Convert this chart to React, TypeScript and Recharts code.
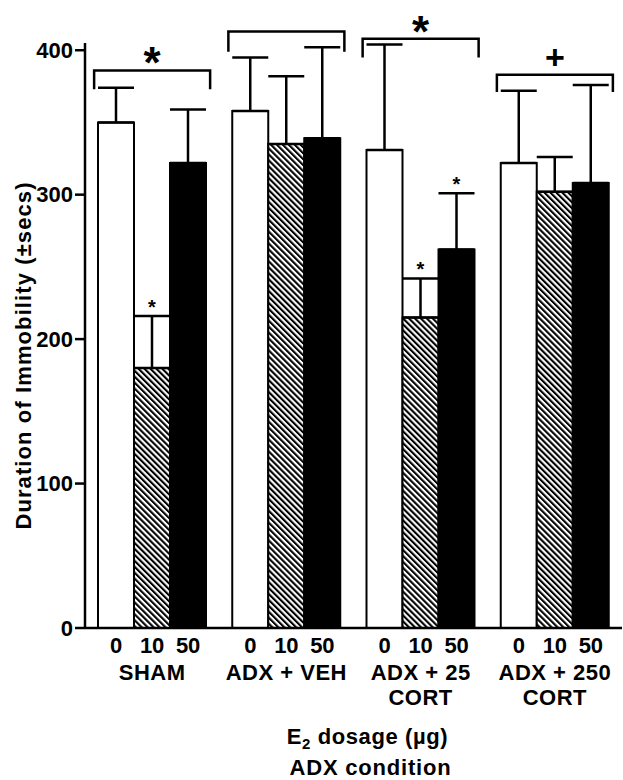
import React from "react";
import {
  BarChart,
  Bar,
  XAxis,
  YAxis,
  ErrorBar,
  ReferenceArea,
  LabelList,
} from "recharts";

const FONT = "'Liberation Sans', Arial, Helvetica, sans-serif";

// groups (ADX condition) and E2 doses
const GROUP_LINE1 = ["SHAM", "ADX + VEH", "ADX + 25", "ADX + 250"];
const GROUP_LINE2 = ["", "", "CORT", "CORT"];
const DOSES = ["0", "10", "50"];

// mean duration of immobility (secs) per dose, one value per group
const MEAN_0 = [350, 358, 331, 322];
const MEAN_10 = [180, 335, 215, 302];
const MEAN_50 = [322, 339, 262, 308];

// + SEM
const SEM_0 = [24, 37, 73, 50];
const SEM_10 = [36, 47, 27, 24];
const SEM_50 = [37, 63, 39, 68];

// significance marks over single bars
const STAR_10 = ["*", "", "*", ""];
const STAR_50 = ["", "", "*", ""];

// group brackets (y of the bar, y of the legs) and their marks
const BRACKET_TOP = [386, 413, 408, 383];
const BRACKET_LEG = [373, 399, 395, 371];
const BRACKET_MARK = ["*", "", "*", "+"];

const Y_TICKS = [0, 100, 200, 300, 400];

const rows = GROUP_LINE1.map((g, i) => ({
  group: g,
  m0: MEAN_0[i],
  m10: MEAN_10[i],
  m50: MEAN_50[i],
  e0: [0, SEM_0[i]],
  e10: [0, SEM_10[i]],
  e50: [0, SEM_50[i]],
  s10: STAR_10[i],
  s50: STAR_50[i],
}));

const BAR = 36;

function GroupTick(props: any) {
  const { x, y, payload, index } = props;
  const txt = { fontFamily: FONT, fontWeight: 700, fill: "#000", textAnchor: "middle" as const };
  return (
    <g>
      {DOSES.map((d, k) => (
        <text key={d} x={x + (k - 1) * BAR} y={y + 25} fontSize={22} {...txt}>
          {d}
        </text>
      ))}
      <text x={x} y={y + 52} fontSize={22} letterSpacing={0.5} {...txt}>
        {payload.value}
      </text>
      {GROUP_LINE2[index] ? (
        <text x={x} y={y + 77} fontSize={22} letterSpacing={0.5} {...txt}>
          {GROUP_LINE2[index]}
        </text>
      ) : null}
    </g>
  );
}

const starLabel = (means: number[], sems: number[]) => (props: any) => {
  const { index, value } = props;
  if (!value) return null;
  const vb = props.viewBox ?? props;
  const top = Math.min(vb.y, vb.y + vb.height);
  const h = Math.abs(vb.height);
  const unit = h / means[index];
  const capY = top + h - (means[index] + sems[index]) * unit;
  return (
    <text
      x={vb.x + vb.width / 2}
      y={capY - 2}
      textAnchor="middle"
      fontSize={20}
      fontWeight={700}
      fontFamily={FONT}
      fill="#000"
    >
      {value}
    </text>
  );
};

const bracketShape = (mark: string) => (props: any) => {
  const { x, y, width, height } = props;
  const cx = x + width / 2;
  const l = cx - 58;
  const r = cx + 58;
  const top = y;
  const bottom = y + height;
  return (
    <g>
      <path
        d={`M${l},${bottom} L${l},${top} L${r},${top} L${r},${bottom}`}
        fill="none"
        stroke="#000"
        strokeWidth={2.5}
      />
      {mark === "*" ? (
        <text x={cx} y={top + 8} textAnchor="middle" fontSize={44} fontWeight={700} fontFamily={FONT} fill="#000">
          *
        </text>
      ) : mark === "+" ? (
        <text x={cx} y={top - 6} textAnchor="middle" fontSize={34} fontWeight={700} fontFamily={FONT} fill="#000">
          +
        </text>
      ) : null}
    </g>
  );
};

const yLabel = (props: any) => {
  const vb = props.viewBox;
  const cx = vb.x + 31;
  const cy = vb.y + vb.height / 2 + 20;
  return (
    <text
      x={cx}
      y={cy}
      transform={`rotate(-90 ${cx} ${cy})`}
      textAnchor="middle"
      fontSize={22}
      fontWeight={700}
      letterSpacing={1.1}
      fontFamily={FONT}
      fill="#000"
    >
      Duration of Immobility (±secs)
    </text>
  );
};

const xLabel = (props: any) => {
  const vb = props.viewBox;
  const cx = vb.x + vb.width / 2 + 14;
  const txt = { fontFamily: FONT, fontWeight: 700, fill: "#000", textAnchor: "middle" as const };
  return (
    <g>
      <text x={cx} y={vb.y + 116} fontSize={22} letterSpacing={0.6} {...txt}>
        <tspan>E</tspan>
        <tspan fontSize={15} dy={5}>2</tspan>
        <tspan dy={-5}> dosage (µg)</tspan>
      </text>
      <text x={cx + 3} y={vb.y + 147} fontSize={22} letterSpacing={0.8} {...txt}>
        ADX condition
      </text>
    </g>
  );
};

export default function App() {
  return (
    <div style={{ position: "absolute", left: 0, top: 0, background: "#fff" }}>
      <BarChart
        width={623}
        height={780}
        data={rows}
        margin={{ top: 43, right: 1, bottom: 0, left: 0 }}
        barGap={0}
        barSize={BAR}
      >
        <defs>
          <pattern
            id="hatch"
            width={4.2}
            height={4.2}
            patternUnits="userSpaceOnUse"
            patternTransform="rotate(-45)"
          >
            <rect width={4.2} height={4.2} fill="#fff" />
            <rect width={2.1} height={4.2} fill="#000" />
          </pattern>
        </defs>

        <XAxis
          dataKey="group"
          height={152}
          interval={0}
          tickLine={false}
          tickSize={0}
          tickMargin={0}
          axisLine={{ stroke: "#000", strokeWidth: 2.5 }}
          tick={<GroupTick />}
          label={xLabel}
        />
        <YAxis
          type="number"
          domain={[0, 405]}
          ticks={Y_TICKS}
          interval={0}
          width={85}
          tickSize={10}
          tickMargin={2}
          axisLine={{ stroke: "#000", strokeWidth: 2.5 }}
          tickLine={{ stroke: "#000", strokeWidth: 2.5 }}
          tick={{ fill: "#000", fontSize: 22, fontWeight: 700, fontFamily: FONT }}
          label={yLabel}
        />

        {GROUP_LINE1.map((g, i) => (
          <ReferenceArea
            key={g}
            x1={g}
            x2={g}
            y1={BRACKET_LEG[i]}
            y2={BRACKET_TOP[i]}
            ifOverflow="visible"
            shape={bracketShape(BRACKET_MARK[i])}
          />
        ))}

        <Bar dataKey="m0" fill="#fff" stroke="#000" strokeWidth={2} isAnimationActive={false}>
          <ErrorBar dataKey="e0" width={18} stroke="#000" strokeWidth={2.5} />
        </Bar>
        <Bar dataKey="m10" fill="url(#hatch)" stroke="#000" strokeWidth={2} isAnimationActive={false}>
          <ErrorBar dataKey="e10" width={18} stroke="#000" strokeWidth={2.5} />
          <LabelList dataKey="s10" content={starLabel(MEAN_10, SEM_10)} />
        </Bar>
        <Bar dataKey="m50" fill="#000" stroke="#000" strokeWidth={2} isAnimationActive={false}>
          <ErrorBar dataKey="e50" width={18} stroke="#000" strokeWidth={2.5} />
          <LabelList dataKey="s50" content={starLabel(MEAN_50, SEM_50)} />
        </Bar>
      </BarChart>
    </div>
  );
}
